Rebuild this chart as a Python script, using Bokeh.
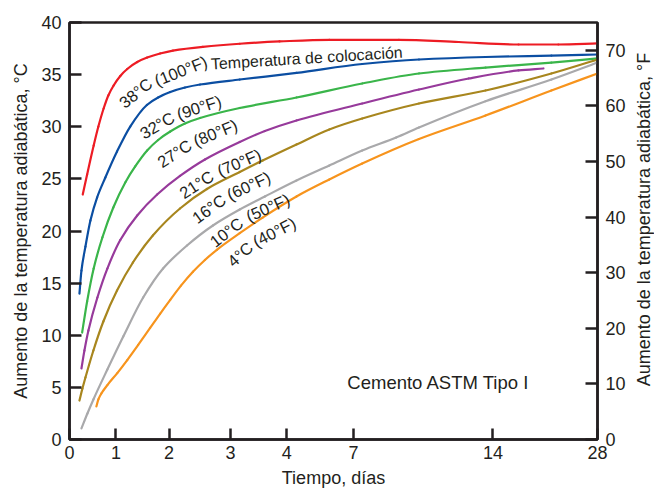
import numpy as np
from bokeh.plotting import figure
from bokeh.layouts import row
from bokeh.models import Range1d, LinearAxis, FixedTicker, ColumnDataSource
from bokeh.core.properties import value
from bokeh.embed import file_html
from bokeh.resources import INLINE

# ---- x axis: irregular day scale (tick days and their relative axis positions)
TICK_DAYS = [0, 1, 2, 3, 4, 7, 14, 28]
TICK_POS = [0, 46.7, 100, 161.7, 218.3, 285.3, 425.3, 530.3]
Y_TICKS_C = [0, 5, 10, 15, 20, 25, 30, 35, 40]
Y_TICKS_F = [0, 10, 20, 30, 40, 50, 60, 70]

# ---- series (days, temperature rise in degC)
days_38 = [0.285, 0.379, 0.52, 0.621, 0.734, 0.835, 0.949, 1.081, 1.212, 1.4, 1.587, 1.831, 2.063, 2.55, 3.164, 3.87, 5.91, 9.28, 12.28, 17.43, 22.76, 28]
temp_38 = [23.5, 25.42, 28.2, 30.02, 31.75, 33.0, 33.96, 34.87, 35.54, 36.21, 36.64, 37.03, 37.31, 37.67, 37.96, 38.18, 38.34, 38.34, 38.13, 37.89, 37.89, 37.99]

days_32 = [0.214, 0.257, 0.343, 0.45, 0.593, 0.771, 1.019, 1.268, 1.582, 1.794, 2.019, 2.259, 2.505, 3.164, 4.434, 7.435, 10.285, 13.63, 21.83, 28]
temp_32 = [14.0, 16.21, 18.51, 21.01, 23.21, 25.13, 27.62, 30.02, 32.09, 32.81, 33.33, 33.76, 34.05, 34.53, 35.16, 36.02, 36.45, 36.69, 36.83, 36.93]

days_27 = [0.272, 0.379, 0.52, 0.707, 0.942, 1.175, 1.362, 1.587, 1.794, 2.019, 2.259, 2.505, 3.164, 4.434, 7.435, 10.285, 13.63, 21.83, 28]
temp_27 = [10.26, 13.24, 16.4, 19.38, 22.25, 24.65, 26.19, 27.72, 28.73, 29.54, 30.31, 30.84, 31.8, 32.81, 34.15, 35.11, 35.68, 36.16, 36.55]

days_21 = [0.257, 0.321, 0.407, 0.6, 0.814, 1.081, 1.4, 1.775, 2.178, 2.584, 3.164, 3.61, 4.434, 7.435, 10.285, 12.785, 17.43, 20.76]
temp_21 = [6.81, 8.54, 10.46, 13.62, 16.4, 19.14, 21.49, 23.5, 25.28, 26.86, 28.54, 29.59, 30.6, 32.23, 33.57, 34.63, 35.4, 35.59]

days_16 = [0.214, 0.278, 0.343, 0.514, 0.728, 1.019, 1.319, 1.694, 2.178, 2.616, 3.164, 3.57, 4.434, 5.91, 7.435, 10.285, 13.63, 21.83, 28]
temp_16 = [3.74, 4.89, 5.95, 8.54, 11.32, 14.29, 16.98, 19.57, 22.16, 24.03, 25.66, 26.76, 28.3, 29.74, 30.79, 32.23, 33.48, 35.11, 36.45]

days_10 = [0.257, 0.385, 0.514, 0.814, 1.137, 1.512, 1.887, 2.292, 2.714, 3.164, 3.61, 4.434, 5.91, 7.435, 9.14, 10.285, 13.63, 21.83, 28]
temp_10 = [1.06, 2.49, 3.84, 6.71, 9.88, 13.62, 16.4, 18.61, 20.53, 22.06, 23.31, 24.84, 26.28, 27.72, 28.97, 29.93, 32.45, 34.53, 36.16]

days_4 = [0.578, 0.621, 0.685, 0.814, 1.024, 1.212, 1.418, 1.643, 1.831, 2.019, 2.194, 2.389, 2.584, 2.778, 3.164, 3.57, 4.434, 5.91, 7.435, 10.285, 13.63, 21.83, 28]
temp_4 = [3.17, 3.84, 4.41, 5.22, 6.37, 7.62, 9.07, 10.7, 12.06, 13.39, 14.76, 16.09, 17.22, 18.2, 19.79, 21.29, 23.31, 24.94, 26.47, 28.82, 31.08, 33.48, 35.11]

SERIES = [
    (days_38, temp_38, "#ED1C24"),
    (days_32, temp_32, "#0B4EA2"),
    (days_27, temp_27, "#3AB54A"),
    (days_21, temp_21, "#973A9B"),
    (days_16, temp_16, "#A8861E"),
    (days_10, temp_10, "#A9A9AB"),
    (days_4, temp_4, "#F7941D"),
]

# ---- curve labels (day, degC, angle in degrees, font size)
LABEL_TEXT = ["38°C", "(100°F)", "Temperatura de colocación",
              "32°C", "(90°F)", "27°C", "(80°F)", "21°C", "(70°F)",
              "16°C", "(60°F)", "10°C", "(50°F)", "4°C", "(40°F)"]
LABEL_DAY = [1.099, 1.737, 2.681, 1.475, 2.130, 1.812, 2.405, 2.194, 2.794,
             2.405, 2.956, 2.697, 3.288, 2.989, 3.412]
LABEL_TEMP = [32.13, 34.39, 36.02, 29.26, 31.18, 26.47, 28.59, 23.50, 25.71,
              21.10, 23.41, 18.80, 21.34, 16.88, 18.90]
LABEL_ANGLE = [39, 21.5, 3.5, 30, 18, 33, 22, 33, 23, 36, 25, 38, 24, 42, 27]
LABEL_SIZE = ["16.5px", "16.5px", "16px"] + ["16.5px"] * 12

NOTE_TEXT = ["Cemento ASTM Tipo I"]
NOTE_DAY = [6.72]
NOTE_TEMP = [5.47]

RIGHT_TITLE = ["Aumento de la temperatura adiabática, °F"]

FONT = "Liberation Sans"
INK = "#231f20"


def to_pos(d):
    return np.interp(d, TICK_DAYS, TICK_POS)


def pchip_bezier(x, y):
    """Control points of a shape-preserving cubic through the given points."""
    x = np.asarray(x, float)
    y = np.asarray(y, float)
    h = np.diff(x)
    delta = np.diff(y) / h
    m = np.zeros_like(y)
    m[0] = delta[0]
    m[-1] = delta[-1]
    for k in range(1, len(x) - 1):
        if delta[k - 1] * delta[k] <= 0:
            m[k] = 0.0
        else:
            w1 = 2 * h[k] + h[k - 1]
            w2 = h[k] + 2 * h[k - 1]
            m[k] = (w1 + w2) / (w1 / delta[k - 1] + w2 / delta[k])
    return dict(x0=x[:-1], y0=y[:-1], x1=x[1:], y1=y[1:],
                cx0=x[:-1] + h / 3, cy0=y[:-1] + m[:-1] * h / 3,
                cx1=x[1:] - h / 3, cy1=y[1:] - m[1:] * h / 3)


p = figure(width=628, height=491, output_backend="svg", toolbar_location=None,
           x_range=Range1d(0, TICK_POS[-1]), y_range=Range1d(0, 40),
           min_border_left=69, min_border_right=29, min_border_top=22, min_border_bottom=52)
p.extra_y_ranges = {"F": Range1d(0, 75)}
p.grid.visible = False
p.outline_line_color = INK
p.outline_line_width = 2.5
p.background_fill_color = "white"
p.border_fill_color = "white"

for d, t, c in SERIES:
    src = ColumnDataSource(pchip_bezier(to_pos(np.array(d)), t))
    p.bezier(x0="x0", y0="y0", x1="x1", y1="y1", cx0="cx0", cy0="cy0",
             cx1="cx1", cy1="cy1", source=src, line_color=c, line_width=2.2,
             line_cap="round")

lsrc = ColumnDataSource(dict(x=to_pos(np.array(LABEL_DAY)), y=LABEL_TEMP,
                             t=LABEL_TEXT, a=LABEL_ANGLE, fs=LABEL_SIZE))
p.text(x="x", y="y", text="t", angle="a", angle_units="deg", source=lsrc,
       text_font=value(FONT), text_font_size="fs", text_color=INK,
       text_baseline="alphabetic", text_align="left")

p.text(x=to_pos(np.array(NOTE_DAY)), y=NOTE_TEMP, text=NOTE_TEXT,
       text_font=value(FONT), text_font_size="18.5px", text_color=INK,
       text_baseline="alphabetic", text_align="left")


def style(ax):
    ax.axis_line_color = INK
    ax.axis_line_width = 2.5
    ax.major_tick_line_color = INK
    ax.major_tick_line_width = 2.5
    ax.major_tick_in = 12
    ax.major_tick_out = 0
    ax.minor_tick_line_color = None
    ax.major_label_text_font = FONT
    ax.major_label_text_font_size = "18px"
    ax.major_label_text_color = INK
    ax.axis_label_text_font = FONT
    ax.axis_label_text_font_size = "18px"
    ax.axis_label_text_font_style = "normal"
    ax.axis_label_text_color = INK


xa = p.xaxis[0]
xa.ticker = FixedTicker(ticks=TICK_POS)
xa.major_label_overrides = {pos: str(d) for pos, d in zip(TICK_POS, TICK_DAYS)}
xa.axis_label = "Tiempo, días"
style(xa)
xa.major_tick_in = 11
xa.major_label_standoff = 6
xa.axis_label_standoff = 6

ya = p.yaxis[0]
ya.ticker = FixedTicker(ticks=Y_TICKS_C)
ya.axis_label = "Aumento de la temperatura adiabática, °C"
style(ya)
ya.major_label_standoff = 8
ya.axis_label_standoff = 7

ra = LinearAxis(y_range_name="F", ticker=FixedTicker(ticks=Y_TICKS_F))
style(ra)
ra.major_label_standoff = 8
p.add_layout(ra, "right")

# narrow strip holding the right-hand axis title (reads bottom-to-top)
q = figure(width=26, height=491, output_backend="svg", toolbar_location=None,
           x_range=Range1d(0, 26), y_range=Range1d(0, 491),
           x_axis_location=None, y_axis_location=None,
           min_border_left=0, min_border_right=0, min_border_top=0, min_border_bottom=0)
q.grid.visible = False
q.outline_line_color = None
q.background_fill_color = "white"
q.border_fill_color = "white"
q.text(x=[15.5], y=[259], text=RIGHT_TITLE, angle=90, angle_units="deg",
       text_font=value(FONT), text_font_size="18px", text_color=INK,
       text_align="center", text_baseline="middle")

layout = row(p, q, spacing=0)
open("out.html", "w").write(file_html(layout, INLINE))
